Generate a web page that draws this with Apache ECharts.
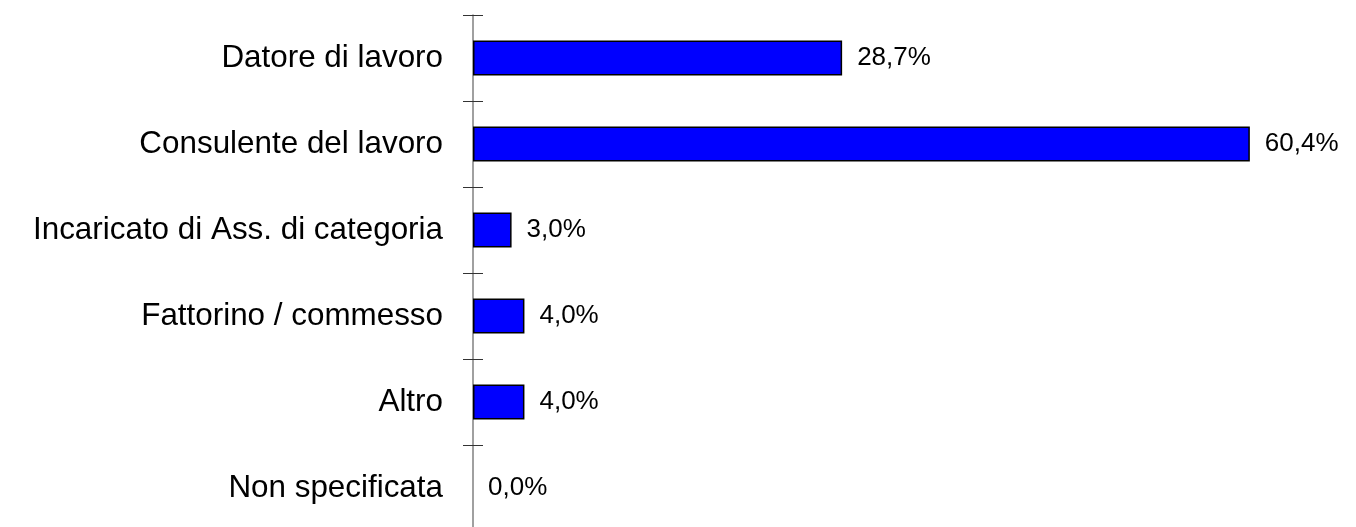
<!DOCTYPE html>
<html>
<head>
<meta charset="utf-8">
<script src="https://cdn.jsdelivr.net/npm/echarts@6/dist/echarts.min.js"></script>
<style>
  html, body { margin: 0; padding: 0; background: #fff; }
  #chart { width: 1356px; height: 527px; }
</style>
</head>
<body>
<div id="chart"></div>
<script>
const categories = [
    "Datore di lavoro",
    "Consulente del lavoro",
    "Incaricato di Ass. di categoria",
    "Fattorino / commesso",
    "Altro",
    "Non specificata"
]
const shares = [28.7, 60.4, 3.0, 4.0, 4.0, 0.0]

const fmt = (v) => v.toFixed(1).replace(".", ",") + "%"

// a zero-width bar should not leave its outline behind
const barData = shares.map((v) => v === 0 ? {value: v, itemStyle: {borderWidth: 0}} : v)

const chart = echarts.init(document.getElementById("chart"))
chart.setOption({
    animation: false,
    // the plot runs a little past the bottom edge of the picture
    grid: {left: 473, top: 15, width: 836, height: 516, outerBoundsMode: "none", containLabel: false},
    xAxis: {type: "value", min: 0, max: 65, show: false},
    yAxis: [
        {
            type: "category",
            data: categories,
            inverse: true,
            axisLine: {show: true, lineStyle: {color: "#808080", width: 1.5}},
            axisTick: {show: true, length: 10, lineStyle: {color: "#333", width: 1}},
            axisLabel: {
                margin: 30,
                color: "#000",
                fontSize: 31.4,
                fontFamily: "Liberation Sans, Arial, sans-serif"
            }
        },
        {
            type: "category",
            data: categories,
            inverse: true,
            position: "left",
            axisLine: {show: false},
            axisTick: {show: true, inside: true, length: 10, lineStyle: {color: "#333", width: 1}},
            axisLabel: {show: false}
        }
    ],
    series: [{
        type: "bar",
        data: barData,
        barWidth: 35,
        itemStyle: {color: "#0000ff", borderColor: "#000", borderWidth: 1.5},
        label: {
            show: true,
            position: "right",
            distance: 15,
            color: "#000",
            fontSize: 26,
            fontFamily: "Liberation Sans, Arial, sans-serif",
            formatter: (p) => fmt(p.value)
        }
    }]
})
</script>
</body>
</html>
